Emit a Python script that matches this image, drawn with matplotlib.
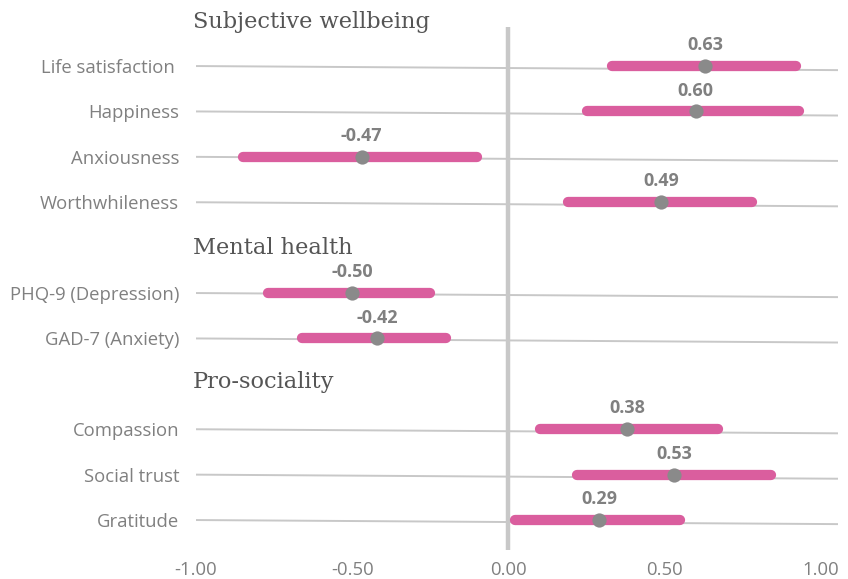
import matplotlib
matplotlib.use("Agg")
import matplotlib.pyplot as plt
import numpy as np

# ---- data ----
sections = ["Subjective wellbeing", "Mental health", "Pro-sociality"]
section_rows = [-0.97, 4.0, 6.95]
labels = ["Life satisfaction ", "Happiness", "Anxiousness", "Worthwhileness",
          "PHQ-9 (Depression)", "GAD-7 (Anxiety)",
          "Compassion", "Social trust", "Gratitude"]
rows = [0, 1, 2, 3, 5, 6, 8, 9, 10]
estimates = [0.63, 0.60, -0.47, 0.49, -0.50, -0.42, 0.38, 0.53, 0.29]
ci_low = [0.33, 0.25, -0.85, 0.19, -0.77, -0.66, 0.10, 0.22, 0.02]
ci_high = [0.92, 0.93, -0.10, 0.78, -0.25, -0.20, 0.67, 0.84, 0.55]
xticks = [-1.0, -0.5, 0.0, 0.5, 1.0]
xticklabels = ["-1.00", "-0.50", "0.00", "0.50", "1.00"]

PINK = "#DA5E9E"
DOT = "#8A8A8A"
GRID = "#C8C8C8"
TXT = "#808080"
SANS = ["Open Sans", "DejaVu Sans"]
SERIF = ["DejaVu Serif"]

W, H = 848, 579
fig = plt.figure(figsize=(W / 100, H / 100), dpi=100)
left, right, top, bottom = 196, 838, 27, 550
ax = fig.add_axes([left / W, 1 - bottom / H, (right - left) / W, (bottom - top) / H])

xmin, xmax = -1.0, 1.055
ax.set_xlim(xmin, xmax)
ax.set_ylim(10.66, -0.86)

# slanted light gridlines
for r in rows:
    ax.plot([xmin, xmax], [r, r + 0.09], color=GRID, lw=1.4, zorder=1,
            solid_capstyle="butt")

# zero line
ax.axvline(0, color=GRID, lw=3.2, zorder=2)

# CI bars
for r, lo, hi in zip(rows, ci_low, ci_high):
    ax.plot([lo, hi], [r, r], color=PINK, lw=7.4, solid_capstyle="round", zorder=3)

# point estimates
ax.scatter(estimates, rows, s=105, color=DOT, zorder=4, linewidths=0)

# value labels
for r, v in zip(rows, estimates):
    ax.annotate(f"{v:.2f}", (v, r), xytext=(0, 15), textcoords="offset points",
                ha="center", va="center", fontsize=13, fontweight="bold",
                color=TXT, family=SANS)

# section headers
for s, r in zip(sections, section_rows):
    ax.text(-1.01, r, s, ha="left", va="center", fontsize=16.2,
            color="#555555", family=SERIF, clip_on=False)

ax.set_yticks(rows)
ax.set_yticklabels(labels, family=SANS, fontsize=13.3, color=TXT)
ax.set_xticks(xticks)
ax.set_xticklabels(xticklabels, family=SANS, fontsize=13.3, color=TXT)
ax.tick_params(axis="y", length=0, pad=12)
ax.tick_params(axis="x", length=0, pad=8)
for sp in ax.spines.values():
    sp.set_visible(False)

fig.savefig("out.png", dpi=100, facecolor="white")
